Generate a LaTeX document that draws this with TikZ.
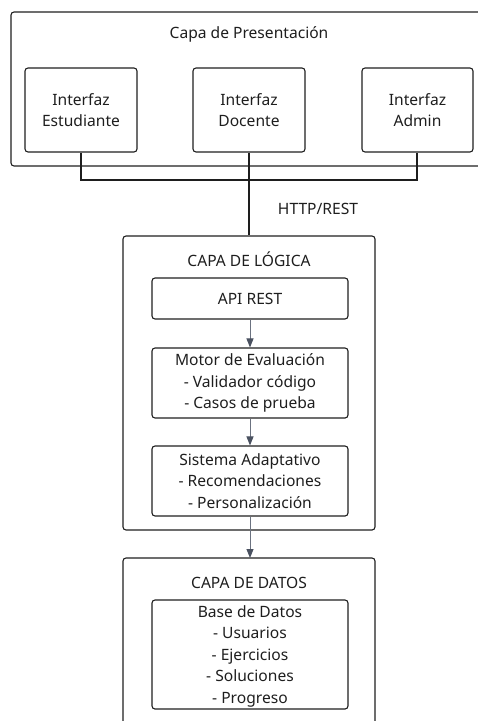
\documentclass[tikz,border=0pt]{standalone}
\usepackage{fontspec}
\setmainfont{Noto Sans}
\usetikzlibrary{arrows.meta}
\definecolor{ink}{HTML}{1E1E1E}
\definecolor{arr}{HTML}{4A5160}
\definecolor{arrline}{HTML}{6B7280}
\begin{document}
\begin{tikzpicture}[x=1pt,y=-1pt,
  box/.style={draw=ink,line width=1.1pt,rounded corners=3pt},
  txt/.style={font=\fontsize{15.6}{21.5}\selectfont,text=ink,align=center,inner sep=0pt},
  link/.style={draw=ink,line width=1.1pt},
  flow/.style={draw=arrline,line width=1pt,-{Triangle[length=9pt,width=7pt,color=arr]}}]
\useasboundingbox (0,0) rectangle (478,721);
\clip (0,0) rectangle (478,721);
% presentation layer
\draw[box] (11,12) rectangle (495,166);
\node[txt] (pres) at (249,34) {Capa de Presentación};
\node[box,minimum width=112pt,minimum height=84pt,inner sep=0pt] (est) at (81,110) {};
\node[txt] at (est) {Interfaz\\Estudiante};
\node[box,minimum width=112pt,minimum height=84pt,inner sep=0pt] (doc) at (249,110) {};
\node[txt] at (doc) {Interfaz\\Docente};
\node[box,minimum width=111pt,minimum height=84pt,inner sep=0pt] (adm) at (417.5,110) {};
\node[txt] at (adm) {Interfaz\\Admin};
\coordinate (jr) at (417,180);
\draw[link] (est.south) |- (jr) -- (adm.south -| jr);
% logic layer
\node[box,minimum width=252pt,minimum height=294pt,inner sep=0pt] (logic) at (249,383) {};
\draw[link] (doc.south) -- (logic.north);
\node[txt] (http) at (318,209) {HTTP/REST};
\node[txt] (lt) at (249,259) {CAPA DE LÓGICA};
\node[box,minimum width=196pt,minimum height=41pt,inner sep=0pt] (api) at (250,298.5) {};
\node[txt] at (api) {API REST};
\node[box,minimum width=196pt,minimum height=70pt,inner sep=0pt] (motor) at (250,383) {};
\node[txt] at (motor) {Motor de Evaluación\\- Validador código\\- Casos de prueba};
\node[box,minimum width=196pt,minimum height=70pt,inner sep=0pt] (sis) at (250,481) {};
\node[txt] at (sis) {Sistema Adaptativo\\- Recomendaciones\\- Personalización};
\draw[flow] (api.south) -- (motor.north);
\draw[flow] (motor.south) -- (sis.north);
% data layer
\draw[box] (123,558) rectangle (375,740);
\coordinate (dtop) at (250,558);
\draw[flow] (sis.south) -- (dtop);
\node[txt] (dt) at (249,583) {CAPA DE DATOS};
\node[box,minimum width=196pt,minimum height=109pt,inner sep=0pt] (bd) at (250,654.5) {};
\node[txt] at (250,656) {Base de Datos\\- Usuarios\\- Ejercicios\\- Soluciones\\- Progreso};
\end{tikzpicture}
\end{document}
